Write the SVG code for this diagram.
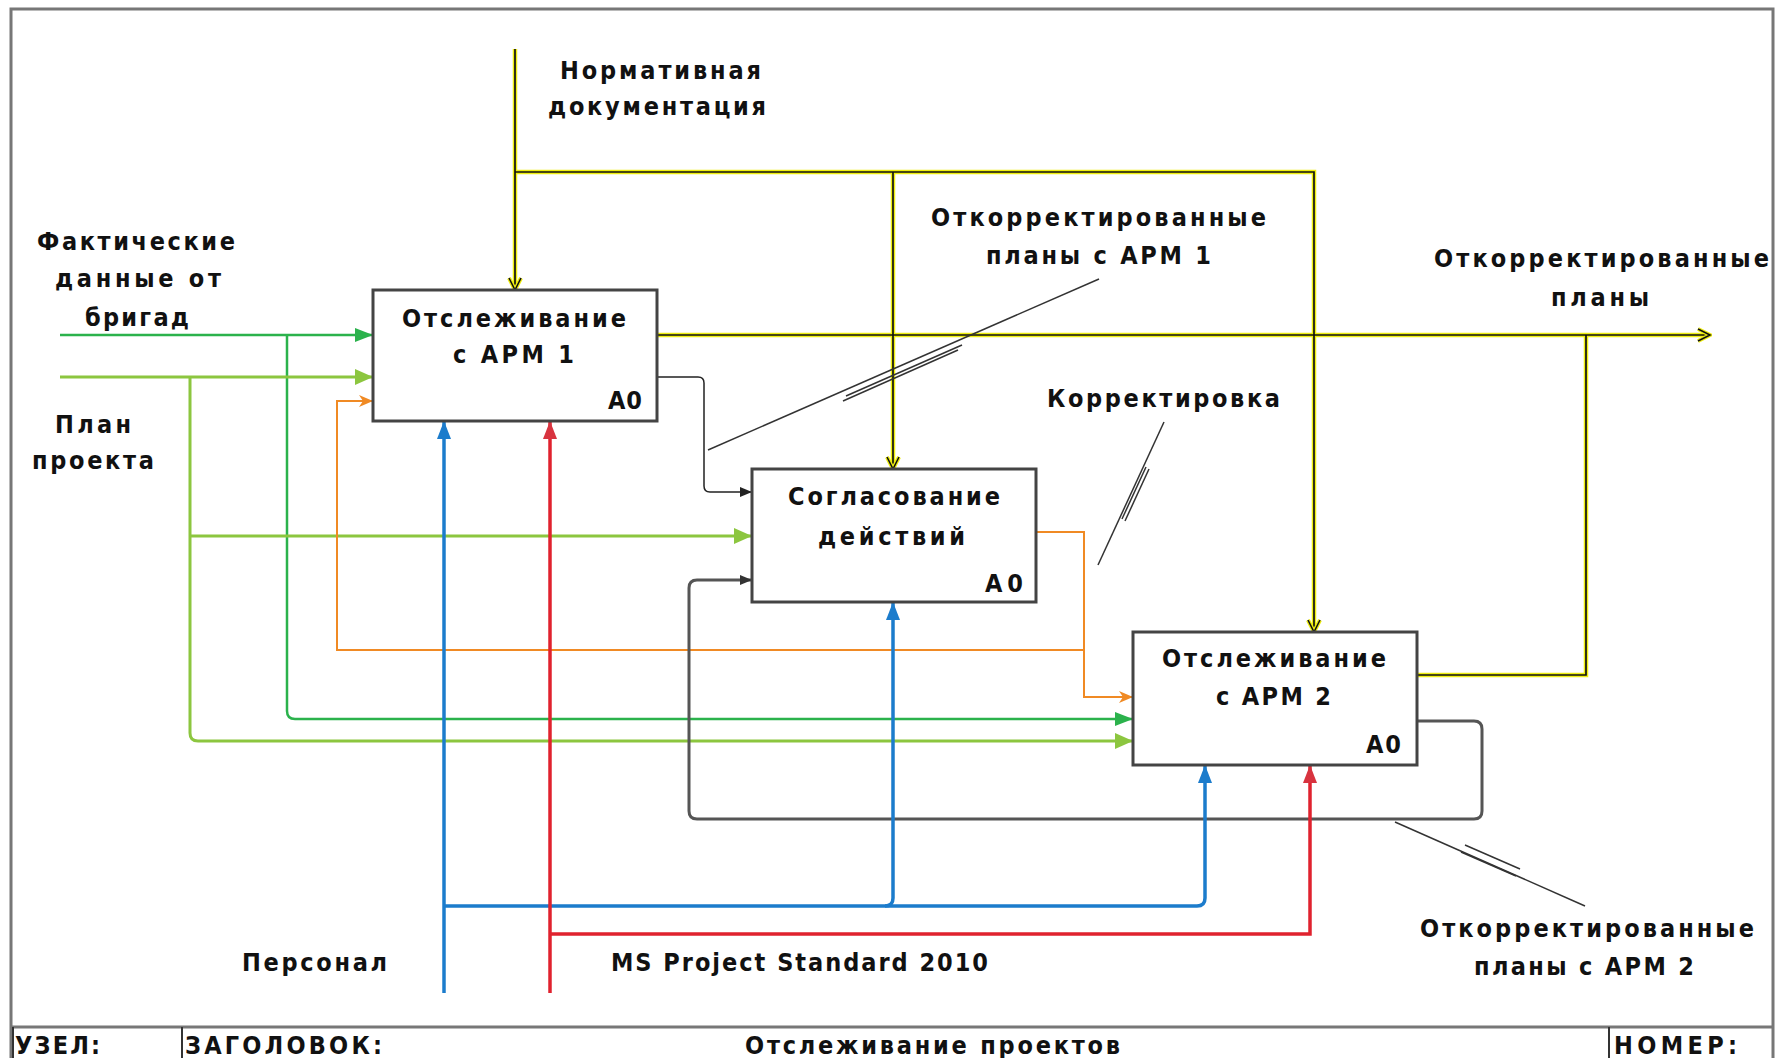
<svg xmlns="http://www.w3.org/2000/svg" width="1776" height="1058" viewBox="0 0 1776 1058">
<style>
text{font-family:"DejaVu Sans Condensed","DejaVu Sans","Liberation Sans",sans-serif;font-stretch:condensed;font-weight:bold;font-size:25px;fill:#111}
.box{fill:#fff;stroke:#444;stroke-width:3}
.frame{fill:#fff;stroke:#777;stroke-width:3}
.yl{fill:none;stroke:#eeee10;stroke-width:4.5}
.bk{fill:none;stroke:#111;stroke-width:1.7}
.dg{fill:none;stroke:#2bb24c;stroke-width:2.5}
.lg{fill:none;stroke:#8cc63f;stroke-width:3}
.or{fill:none;stroke:#f08a24;stroke-width:2}
.bl{fill:none;stroke:#1c7ccc;stroke-width:3.5}
.rd{fill:none;stroke:#e0222e;stroke-width:3.5}
.gr{fill:none;stroke:#555;stroke-width:3}
.ln{fill:none;stroke:#222;stroke-width:1.5}
.ld{fill:none;stroke:#333;stroke-width:1.5}
</style>
<defs>
<marker id="mdg" viewBox="0 0 18 14" refX="18" refY="7" markerWidth="18" markerHeight="14" markerUnits="userSpaceOnUse" orient="auto"><path d="M0,0 L18,7 L0,14 z" fill="#2bb24c"/></marker>
<marker id="mlg" viewBox="0 0 18 16" refX="18" refY="8" markerWidth="18" markerHeight="16" markerUnits="userSpaceOnUse" orient="auto"><path d="M0,0 L18,8 L0,16 z" fill="#8cc63f"/></marker>
<marker id="mor" viewBox="0 0 14 12" refX="14" refY="6" markerWidth="14" markerHeight="12" markerUnits="userSpaceOnUse" orient="auto"><path d="M0,0 L14,6 L0,12 L4,6 z" fill="#f08a24"/></marker>
<marker id="mbl" viewBox="0 0 18 14" refX="18" refY="7" markerWidth="18" markerHeight="14" markerUnits="userSpaceOnUse" orient="auto"><path d="M0,0 L18,7 L0,14 z" fill="#1c7ccc"/></marker>
<marker id="mrd" viewBox="0 0 18 14" refX="18" refY="7" markerWidth="18" markerHeight="14" markerUnits="userSpaceOnUse" orient="auto"><path d="M0,0 L18,7 L0,14 z" fill="#d8333f"/></marker>
<marker id="mbk" viewBox="0 0 12 10" refX="12" refY="5" markerWidth="12" markerHeight="10" markerUnits="userSpaceOnUse" orient="auto"><path d="M0,0 L12,5 L0,10 z" fill="#222"/></marker>
<marker id="mgr" viewBox="0 0 12 10" refX="12" refY="5" markerWidth="12" markerHeight="10" markerUnits="userSpaceOnUse" orient="auto"><path d="M0,0 L12,5 L0,10 z" fill="#333"/></marker>
<marker id="myl" viewBox="-2 -2 16 16" refX="12" refY="6" markerWidth="16" markerHeight="16" markerUnits="userSpaceOnUse" orient="auto"><path d="M0,0 L12,6 L0,12" fill="none" stroke="#eeee10" stroke-width="4"/><path d="M0,0 L12,6 L0,12" fill="none" stroke="#111" stroke-width="1.6"/></marker>
</defs>

<rect class="frame" x="11" y="9" width="1762" height="1070"/>
<g id="titleband">
<line x1="11" y1="1027" x2="1773" y2="1027" stroke="#777" stroke-width="3"/>
<line x1="13" y1="1027" x2="13" y2="1058" stroke="#333" stroke-width="2"/>
<line x1="182" y1="1027" x2="182" y2="1058" stroke="#333" stroke-width="2"/>
<line x1="1609" y1="1027" x2="1609" y2="1058" stroke="#333" stroke-width="2"/>
<text x="15" y="1054" textLength="85">УЗЕЛ:</text>
<text x="185" y="1054" textLength="197">ЗАГОЛОВОК:</text>
<text x="745" y="1054" textLength="375">Отслеживание проектов</text>
<text x="1614" y="1054" textLength="123">НОМЕР:</text>
</g>

<g id="connectors">
<path class="yl" d="M515,49 V288"/>
<path class="yl" d="M515,172 H1314 V630"/>
<path class="yl" d="M893,172 V467"/>
<path class="yl" d="M657,335 H1708"/>
<path class="yl" d="M1417,675 H1586 V335"/>
<path class="bk" d="M515,49 V290" marker-end="url(#myl)"/>
<path class="bk" d="M515,172 H1314 V632" marker-end="url(#myl)"/>
<path class="bk" d="M893,172 V469" marker-end="url(#myl)"/>
<path class="bk" d="M657,335 H1710" marker-end="url(#myl)"/>
<path class="bk" d="M1417,675 H1586 V335"/>
<path class="dg" d="M60,335 H373" marker-end="url(#mdg)"/>
<path class="dg" d="M287,335 V711 Q287,719 295,719 H1133" marker-end="url(#mdg)"/>
<path class="lg" d="M60,377 H373" marker-end="url(#mlg)"/>
<path class="lg" d="M190,377 V733 Q190,741 198,741 H1133" marker-end="url(#mlg)"/>
<path class="lg" d="M190,536 H752" marker-end="url(#mlg)"/>
<path class="or" d="M1036,532 H1084 V697 H1133" marker-end="url(#mor)"/>
<path class="or" d="M1084,650 H337 V401 H373" marker-end="url(#mor)"/>
<path class="ln" d="M657,377 H698 Q704,377 704,383 V486 Q704,492 710,492 H752" marker-end="url(#mbk)"/>
<path class="gr" d="M1417,721 H1474 Q1482,721 1482,729 V811 Q1482,819 1474,819 H697 Q689,819 689,811 V588 Q689,580 697,580 H752" marker-end="url(#mgr)"/>
<path class="bl" d="M444,993 V421" marker-end="url(#mbl)"/>
<path class="bl" d="M444,906 H1197 Q1205,906 1205,898 V765" marker-end="url(#mbl)"/>
<path class="bl" d="M885,906 Q893,906 893,898 V602" marker-end="url(#mbl)"/>
<path class="rd" d="M550,993 V421" marker-end="url(#mrd)"/>
<path class="rd" d="M550,934 H1310 V765" marker-end="url(#mrd)"/>
<path class="ld" d="M1099,279 L708,450"/>
<path class="ld" d="M846,396 L962,345"/>
<path class="ld" d="M843,401 L958,350"/>
<path class="ld" d="M1164,422 L1098,565"/>
<path class="ld" d="M1146,467 L1122,519"/>
<path class="ld" d="M1149,469 L1125,521"/>
<path class="ld" d="M1395,822 L1585,906"/>
<path class="ld" d="M1465,845 L1520,869"/>
<path class="ld" d="M1461,852 L1516,876"/>
<text x="560" y="79" textLength="201">Нормативная</text>
<text x="548" y="115" textLength="218">документация</text>
<text x="37" y="250" textLength="198">Фактические</text>
<text x="55" y="287" textLength="166">данные от</text>
<text x="85" y="326" textLength="104">бригад</text>
<text x="55" y="433" textLength="76">План</text>
<text x="32" y="469" textLength="122">проекта</text>
<text x="931" y="226" textLength="335">Откорректированные</text>
<text x="986" y="264" textLength="225">планы с АРМ 1</text>
<text x="1434" y="267" textLength="335">Откорректированные</text>
<text x="1551" y="306" textLength="98">планы</text>
<text x="1047" y="407" textLength="233">Корректировка</text>
<text x="242" y="971" textLength="145">Персонал</text>
<text x="611" y="971" textLength="377">MS Project Standard 2010</text>
<text x="1420" y="937" textLength="334">Откорректированные</text>
<text x="1474" y="975" textLength="220">планы с АРМ 2</text>
</g>

<g id="node-a1">
<rect class="box" x="373" y="290" width="284" height="131"/>
<text x="402" y="327" textLength="224">Отслеживание</text>
<text x="453" y="363" textLength="121">с АРМ 1</text>
<text x="608" y="409" textLength="34">А0</text>
</g>
<g id="node-a2">
<rect class="box" x="752" y="469" width="284" height="133"/>
<text x="788" y="505" textLength="212">Согласование</text>
<text x="818" y="545" textLength="147">действий</text>
<text x="985" y="592" textLength="38">А0</text>
</g>
<g id="node-a3">
<rect class="box" x="1133" y="632" width="284" height="133"/>
<text x="1162" y="667" textLength="224">Отслеживание</text>
<text x="1216" y="705" textLength="115">с АРМ 2</text>
<text x="1366" y="753" textLength="35">А0</text>
</g>
</svg>
